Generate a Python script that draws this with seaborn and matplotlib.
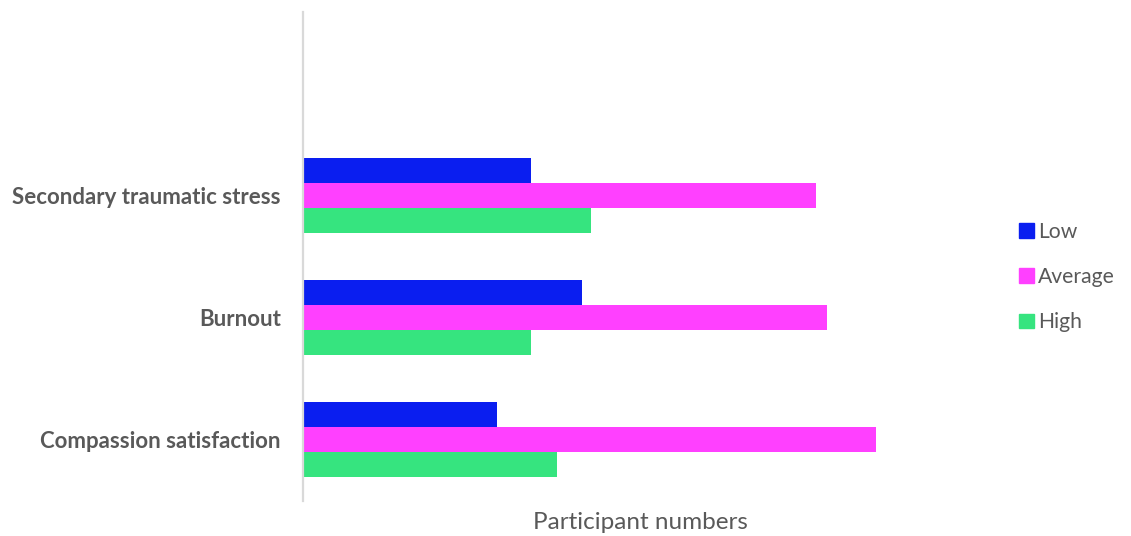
import matplotlib
matplotlib.use("Agg")
import matplotlib.pyplot as plt
import seaborn as sns
import pandas as pd

# Participant counts per ProQOL subscale and level
categories = ["Secondary traumatic stress", "Burnout", "Compassion satisfaction"]
levels = ["Low", "Average", "High"]
low_values = [8.0, 9.8, 6.8]
average_values = [18.0, 18.4, 20.1]
high_values = [10.1, 8.0, 8.9]
level_colors = ["#0A1EF0", "#FF40FF", "#36E47F"]

rows = []
for cat, lo, av, hi in zip(categories, low_values, average_values, high_values):
    rows.append({"Scale": cat, "Level": "Low", "Count": lo})
    rows.append({"Scale": cat, "Level": "Average", "Count": av})
    rows.append({"Scale": cat, "Level": "High", "Count": hi})
df = pd.DataFrame(rows)

sns.set_theme(style="white")
plt.rcParams["font.family"] = ["Lato", "DejaVu Sans"]

W, H = 1131, 536
fig = plt.figure(figsize=(W / 100, H / 100), dpi=100)
ax = fig.add_axes([303 / W, (H - 501) / H, 657 / W, 489 / H])

sns.barplot(data=df, y="Scale", x="Count", hue="Level", order=categories,
            hue_order=levels, palette=level_colors, orient="h",
            width=0.615, ax=ax, legend=False, saturation=1, linewidth=0)

ax.set_xlim(0, 23.05)
ax.set_ylim(2.5, -1.5)
ax.set_xticks([])
ax.set_ylabel("")
ax.set_xlabel("Participant numbers", fontsize=17.5, color="#595959")
ax.xaxis.set_label_coords((640 - 303) / 657, -0.022)

for s in ["top", "right", "bottom"]:
    ax.spines[s].set_visible(False)
ax.spines["left"].set_color("#D9D9D9")
ax.spines["left"].set_linewidth(1.6)

ax.tick_params(axis="y", length=0, pad=16)
for lbl in ax.get_yticklabels():
    lbl.set_fontweight("bold")
    lbl.set_fontsize(16)
    lbl.set_color("#595959")

handles = [plt.Rectangle((0, 0), 1, 1, color=c) for c in level_colors]
fig.legend(handles, levels, loc="center left", bbox_to_anchor=(1000 / W, 1 - 277 / H),
           frameon=False, fontsize=15.2, labelcolor="#595959",
           handlelength=0.7, handleheight=0.7, handletextpad=0.2,
           labelspacing=1.2)

fig.savefig("out.png", dpi=100)
